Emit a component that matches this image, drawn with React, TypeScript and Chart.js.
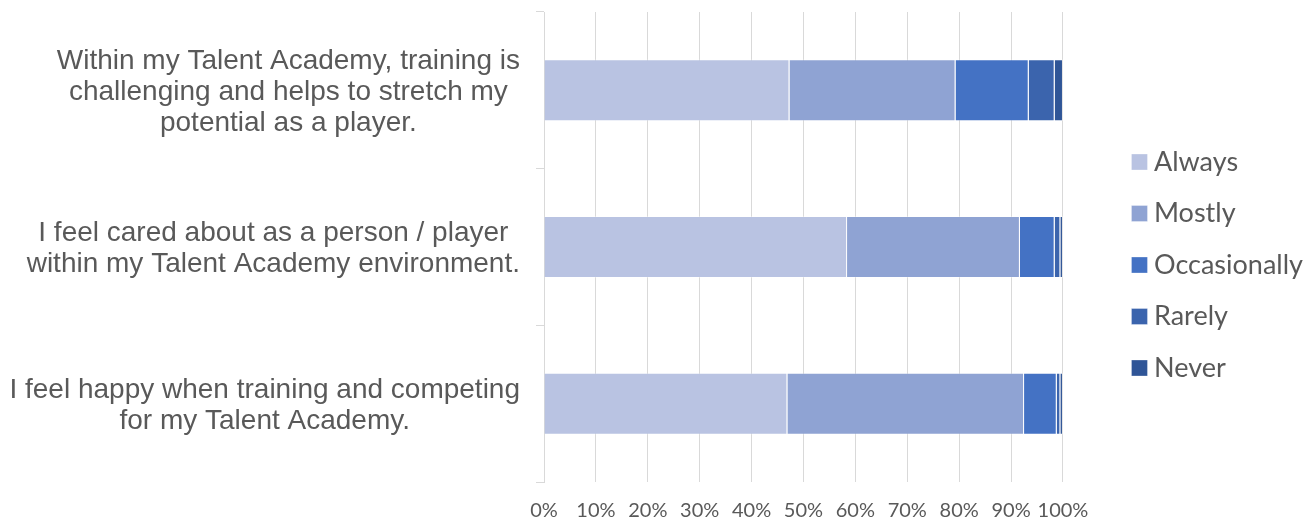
import { useEffect, useRef } from "react";
import { Chart, registerables, layouts } from "chart.js";

Chart.register(...registerables);

const categories: string[][] = [
  ["Within my Talent Academy, training is", "challenging and helps to stretch my", "potential as a player."],
  ["I feel cared about as a person / player", "within my Talent Academy environment."],
  ["I feel happy when training and competing", "for my Talent Academy."],
];
const seriesNames = ["Always", "Mostly", "Occasionally", "Rarely", "Never"];
const always = [47.3, 58.4, 46.9];
const mostly = [32.0, 33.3, 45.6];
const occasionally = [14.1, 6.7, 6.3];
const rarely = [5.0, 1.1, 0.7];
const never = [1.6, 0.5, 0.5];
const seriesColors = ["#B9C3E2", "#8FA3D3", "#4472C4", "#3B64AD", "#2F5597"];
const xTickStep = 10;

const W = 1305;
const H = 523;

const yLabelPlugin = {
  id: "yLabels",
  afterDraw(chart: any) {
    const ctx = chart.ctx;
    const y = chart.scales.y;
    ctx.save();
    ctx.font = '28px "Liberation Sans", Arial, sans-serif';
    ctx.fillStyle = "#595959";
    ctx.textAlign = "center";
    ctx.textBaseline = "middle";
    const rightEdge = y.right - 24;
    categories.forEach((lines, i) => {
      const cy = y.getPixelForValue(i) + 2;
      const maxW = Math.max(...lines.map((l) => ctx.measureText(l).width));
      const cx = rightEdge - maxW / 2;
      lines.forEach((l, j) => {
        ctx.fillText(l, cx, cy + (j - (lines.length - 1) / 2) * 31);
      });
    });
    ctx.restore();
  },
};

const spacerPlugin = {
  id: "spacer",
  beforeInit(chart: any) {
    const box: any = {
      position: "right",
      weight: 10,
      fullSize: false,
      options: {},
      width: 0,
      height: 0,
      left: 0,
      top: 0,
      right: 0,
      bottom: 0,
      isHorizontal() {
        return false;
      },
      update(_mw: number, mh: number) {
        this.width = 51;
        this.height = mh;
      },
      draw() {},
    };
    layouts.addBox(chart, box);
  },
};

export default function App() {
  const ref = useRef<HTMLCanvasElement | null>(null);
  useEffect(() => {
    document.body.style.margin = "0";
    const seriesValues = [always, mostly, occasionally, rarely, never];
    const chart = new Chart(ref.current as HTMLCanvasElement, {
      type: "bar",
      data: {
        labels: categories,
        datasets: seriesNames.map((name, i) => ({
          label: name,
          data: seriesValues[i],
          backgroundColor: seriesColors[i],
          borderColor: "rgba(255,255,255,0.3)",
          borderWidth: 1,
          barPercentage: 0.396,
          categoryPercentage: 1,
        })),
      },
      options: {
        indexAxis: "y",
        animation: false,
        responsive: false,
        devicePixelRatio: 1,
        layout: { padding: { top: 12, right: -8, bottom: 5, left: 0 } },
        plugins: {
          tooltip: { enabled: false },
          legend: {
            position: "right",
            labels: {
              usePointStyle: true,
              pointStyle: "rect",
              boxWidth: 2,
              boxHeight: 16,
              padding: 24.5,
              color: "#595959",
              font: { family: "Lato", size: 27 },
            },
          },
        },
        scales: {
          x: {
            stacked: true,
            min: 0,
            max: 100,
            ticks: {
              stepSize: xTickStep,
              callback: (v: any) => v + "%",
              color: "#595959",
              font: { family: "Lato", size: 20 },
              padding: 17,
              maxRotation: 0,
              autoSkip: false,
            },
            grid: { color: "#d9d9d9", drawTicks: false },
            border: { display: false },
            afterFit: (s: any) => {
              s.height = 36;
            },
          },
          y: {
            stacked: true,
            ticks: { display: false },
            grid: { drawOnChartArea: false, color: "#d9d9d9", tickLength: 8 },
            border: { color: "#d9d9d9" },
            afterFit: (s: any) => {
              s.width = 544;
            },
          },
        },
      },
      plugins: [yLabelPlugin, spacerPlugin],
    } as any);
    return () => chart.destroy();
  }, []);
  return (
    <div style={{ width: W, height: H }}>
      <canvas ref={ref} width={W} height={H} style={{ display: "block" }} />
    </div>
  );
}
